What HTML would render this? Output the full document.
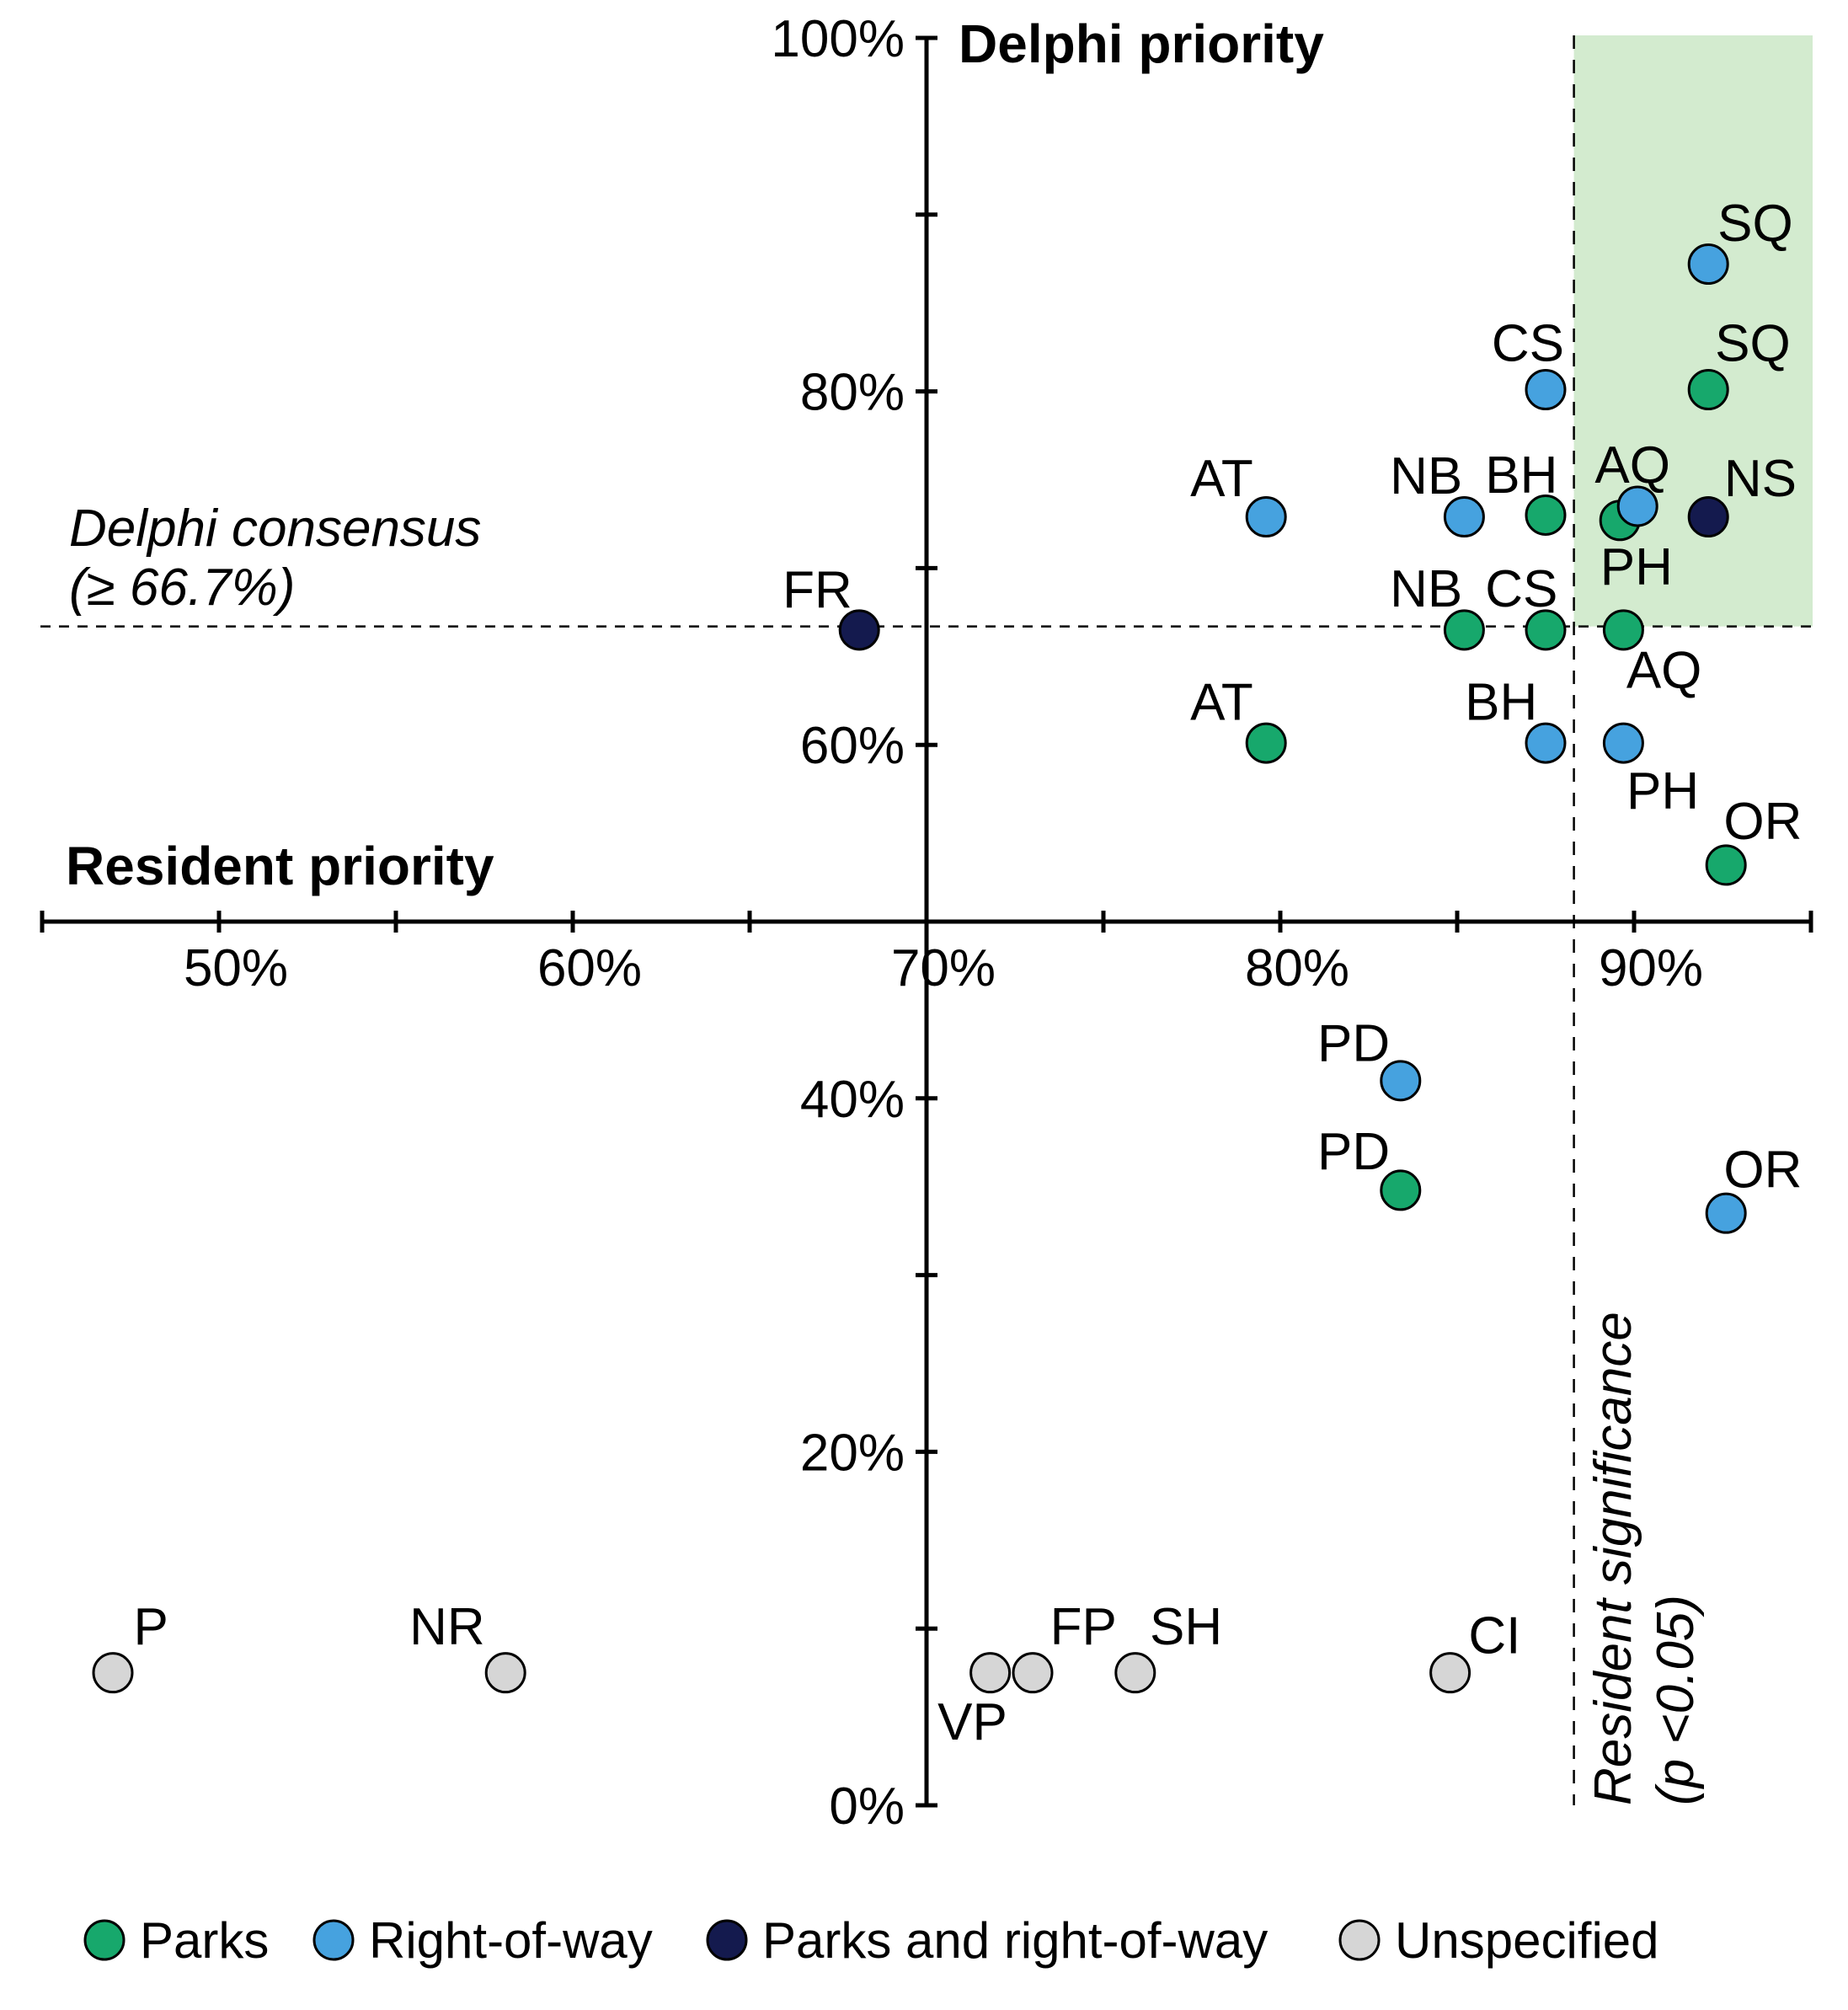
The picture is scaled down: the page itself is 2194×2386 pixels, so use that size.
<!DOCTYPE html>
<html><head><meta charset="utf-8"><style>
html,body{margin:0;padding:0;background:#fff;}
svg{display:block;font-family:"Liberation Sans",Arial,sans-serif;}
</style></head><body>
<svg id="chart" width="2194" height="2386" viewBox="0 0 2194 2386" xmlns="http://www.w3.org/2000/svg"></svg>
<script>
// ---- data ----
const categories = ["Parks","Right-of-way","Parks and right-of-way","Unspecified"];
const catColors = ["#17a86c","#46a2df","#141a4e","#d6d6d6"];
const pointLabels = ["SQ","BH","PH","NB","CS","AQ","AT","OR","PD",
  "SQ","CS","AT","NB","AQ","BH","PH","PD","OR",
  "NS","FR",
  "P","NR","VP","FP","SH","CI"];
const pointCats = [0,0,0,0,0,0,0,0,0, 1,1,1,1,1,1,1,1,1, 2,2, 3,3,3,3,3,3];
const residentValues = [92.1,87.5,89.6,85.2,87.5,89.7,79.6,92.6,83.4,
  92.1,87.5,79.6,85.2,90.1,87.5,89.7,83.4,92.6,
  92.1,68.1,
  47.0,58.1,71.8,73.0,75.9,84.8];
const delphiValues = [80.1,73.0,72.7,66.5,66.5,66.5,60.1,53.2,34.8,
  87.2,80.1,72.9,72.9,73.5,60.1,60.1,41.0,33.5,
  72.9,66.5,
  7.5,7.5,7.5,7.5,7.5,7.5];
const xTickValues = [50,60,70,80,90];
const xTickLabels = ["50%","60%","70%","80%","90%"];
const yTickValues = [0,20,40,60,80,100];
const yTickLabels = ["0%","20%","40%","60%","80%","100%"];
const consensus = 66.7;
const significance = 88.3;

// ---- layout (label offsets, in display units) ----
const labelOffsets = [[35,-37],[-19,-32],[13,36],[-30,-33],[-19,-33],[32,31],[-35,-33],[29,-35],[-37,-31],
  [37,-33],[-14,-37],[-35,-31],[-30,-33],[-4,-33],[-35,-33],[31,37],[-37,-30],[29,-35],
  [41,-31],[-33,-32],
  [30,-37],[-46,-37],[-14,38],[40,-37],[40,-37],[35,-30]];

const svg = document.getElementById('chart');
const NS = "http://www.w3.org/2000/svg";
const sx = v => 1100 + (v - 70) * 42.0;
const sy = v => 2143 - v * 20.98;
function mk(tag, attrs, parent){ const e=document.createElementNS(NS,tag); for(const k in attrs) e.setAttribute(k,attrs[k]); (parent||svg).appendChild(e); return e; }

let reg = mk('rect',{x:sx(significance),y:42,width:2152-sx(significance),height:sy(consensus)-42,fill:'#d3ebcf'});


let hl = mk('line',{x1:48,x2:2152,y1:sy(consensus),y2:sy(consensus),stroke:'#000','stroke-width':2.5,'stroke-dasharray':'12 10'});


let vl = mk('line',{x1:sx(significance),x2:sx(significance),y1:42,y2:2143,stroke:'#000','stroke-width':2.5,'stroke-dasharray':'16 13'});



let xa = mk('line',{x1:48,x2:2150,y1:sy(50),y2:sy(50),stroke:'#000','stroke-width':5});


let ya = mk('line',{x1:1100,x2:1100,y1:sy(100),y2:sy(0),stroke:'#000','stroke-width':5});


for(let v=45; v<=95; v+=5){
  const t=mk('line',{x1:sx(v),x2:sx(v),y1:sy(50)-13,y2:sy(50)+13,stroke:'#000','stroke-width':5});
  
  
}
xTickValues.forEach((v,i)=>{
  const t=mk('text',{x:sx(v)+20,y:sy(50)+76,'font-size':62,'text-anchor':'middle',fill:'#000'});
  t.textContent=xTickLabels[i];
  
  
});
for(let v=0; v<=100; v+=10){
  const t=mk('line',{x1:1087,x2:1113,y1:sy(v),y2:sy(v),stroke:'#000','stroke-width':5});
  
  
}
yTickValues.forEach((v,i)=>{
  const t=mk('text',{x:1074,y:sy(v)+22,'font-size':62,'text-anchor':'end',fill:'#000'});
  t.textContent=yTickLabels[i];
  
  
});

let t1=mk('text',{x:1138,y:74,'font-size':64,'font-weight':'bold'}); t1.textContent='Delphi priority';
 
let t2=mk('text',{x:78,y:1050,'font-size':64,'font-weight':'bold'}); t2.textContent='Resident priority';
 
let c1=mk('text',{x:82,y:648,'font-size':62,'font-style':'italic'}); c1.textContent='Delphi consensus';
 
let c2=mk('text',{x:82,y:718,'font-size':62,'font-style':'italic'}); c2.textContent='(≥ 66.7%)';
 
let r1=mk('text',{x:0,y:0,'font-size':62,'font-style':'italic',transform:'translate(1936,2143) rotate(-90)'}); r1.textContent='Resident significance';
 
let r2=mk('text',{x:0,y:0,'font-size':62,'font-style':'italic',transform:'translate(2010,2143) rotate(-90)'}); r2.textContent='(p <0.05)';
 

residentValues.forEach((rv,i)=>{
  const cx=sx(rv), cy=sy(delphiValues[i]);
  const c=mk('circle',{cx:cx,cy:cy,r:23,fill:catColors[pointCats[i]],stroke:'#000','stroke-width':3});
  
  
  const o=labelOffsets[i];
  const t=mk('text',{x:cx+o[0]*1.507,y:cy+o[1]*1.507+22,'font-size':62,'text-anchor':'middle',fill:'#000'});
  t.textContent=pointLabels[i];
  
  
});

const legX=[124,396,863,1614];
categories.forEach((name,i)=>{
  const c=mk('circle',{cx:legX[i],cy:2303,r:23,fill:catColors[i],stroke:'#000','stroke-width':3});
  
  
  const t=mk('text',{x:legX[i]+42,y:2324,'font-size':60,fill:'#000'});
  t.textContent=name;
  
  
});
</script>
</body></html>
